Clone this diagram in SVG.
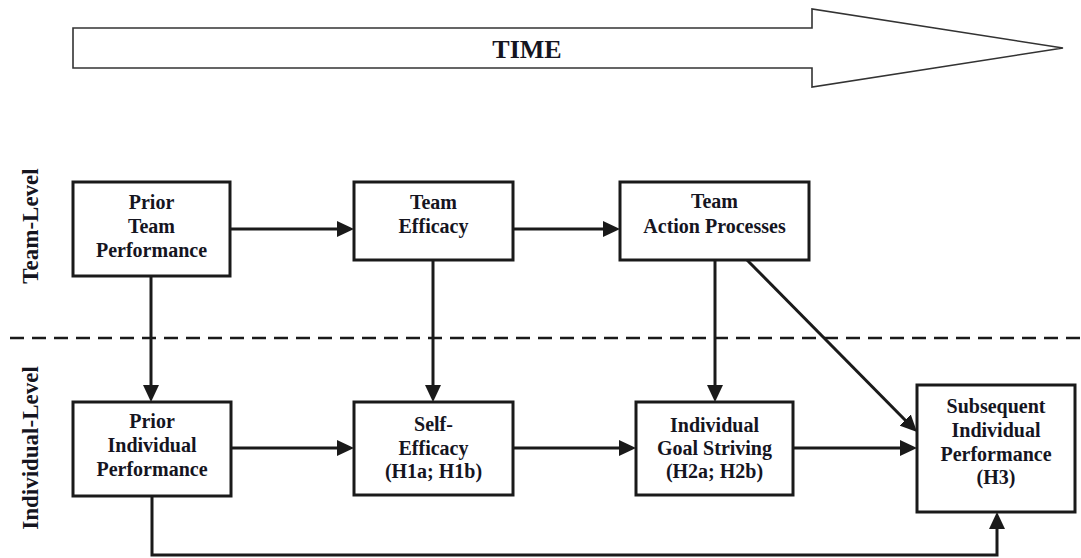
<svg xmlns="http://www.w3.org/2000/svg" width="1081" height="558" viewBox="0 0 1081 558">
<defs>
<style>
.box{fill:#fff;stroke:#1a1a1a;stroke-width:3}
.t{font-family:'Liberation Serif','Times New Roman','DejaVu Serif',serif;font-weight:700;font-size:20px;fill:#15151f;text-anchor:middle}
.lvl{font-family:'Liberation Serif','Times New Roman','DejaVu Serif',serif;font-weight:700;font-size:23px;fill:#15151f;text-anchor:middle}
.c{fill:none;stroke:#1a1a1a;stroke-width:3}
</style>
<marker id="ah" viewBox="0 0 17 16" refX="7" refY="8" markerWidth="17" markerHeight="16" markerUnits="userSpaceOnUse" orient="auto">
<path d="M0,0 L17,8 L0,16 z" fill="#1a1a1a"/>
</marker>
</defs>
<rect width="1081" height="558" fill="#fff"/>
<g id="time">
<path d="M73,28 H812 V9 L1063,48 L812,87 V68 H73 Z" fill="#fff" stroke="#333" stroke-width="1.6"/>
<text x="527" y="58" font-family="Liberation Serif, Times New Roman, serif" font-weight="700" font-size="26" fill="#15151f" text-anchor="middle">TIME</text>
</g>
<g id="levels">
<line x1="10" y1="338" x2="1081" y2="338" stroke="#1a1a1a" stroke-width="2.5" stroke-dasharray="14 8"/>
<text class="lvl" transform="translate(38,226) rotate(-90)">Team-Level</text>
<text class="lvl" transform="translate(38,448) rotate(-90)">Individual-Level</text>
</g>
<g id="connectors">
<path class="c" d="M230,229 H344" marker-end="url(#ah)"/>
<path class="c" d="M513,229 H610" marker-end="url(#ah)"/>
<path class="c" d="M151,276 V392" marker-end="url(#ah)"/>
<path class="c" d="M433,260 V392" marker-end="url(#ah)"/>
<path class="c" d="M715,260 V392" marker-end="url(#ah)"/>
<path class="c" d="M747,260 L910,425" marker-end="url(#ah)"/>
<path class="c" d="M231,448 H344" marker-end="url(#ah)"/>
<path class="c" d="M513,448 H626" marker-end="url(#ah)"/>
<path class="c" d="M793,448 H907" marker-end="url(#ah)"/>
<path class="c" d="M152,496 V555 H997 V522" marker-end="url(#ah)"/>
</g>
<g id="prior-team">
<rect class="box" x="73" y="182" width="157" height="94"/>
<text class="t" x="151.5" y="209">Prior</text>
<text class="t" x="151.5" y="233">Team</text>
<text class="t" x="151.5" y="257">Performance</text>
</g>
<g id="team-efficacy">
<rect class="box" x="354" y="182" width="159" height="78"/>
<text class="t" x="433.5" y="209">Team</text>
<text class="t" x="433.5" y="233">Efficacy</text>
</g>
<g id="team-action">
<rect class="box" x="620" y="182" width="189" height="78"/>
<text class="t" x="714.5" y="208">Team</text>
<text class="t" x="714.5" y="233">Action Processes</text>
</g>
<g id="prior-individual">
<rect class="box" x="73" y="402" width="158" height="94"/>
<text class="t" x="152" y="428">Prior</text>
<text class="t" x="152" y="452">Individual</text>
<text class="t" x="152" y="476">Performance</text>
</g>
<g id="self-efficacy">
<rect class="box" x="354" y="402" width="159" height="93"/>
<text class="t" x="433.5" y="431">Self-</text>
<text class="t" x="433.5" y="455">Efficacy</text>
<text class="t" x="433.5" y="478">(H1a; H1b)</text>
</g>
<g id="goal-striving">
<rect class="box" x="636" y="402" width="157" height="93"/>
<text class="t" x="714.5" y="432">Individual</text>
<text class="t" x="714.5" y="455">Goal Striving</text>
<text class="t" x="714.5" y="478">(H2a; H2b)</text>
</g>
<g id="subsequent">
<rect class="box" x="917" y="385" width="158" height="127"/>
<text class="t" x="996" y="413">Subsequent</text>
<text class="t" x="996" y="437">Individual</text>
<text class="t" x="996" y="461">Performance</text>
<text class="t" x="996" y="484">(H3)</text>
</g>
</svg>
